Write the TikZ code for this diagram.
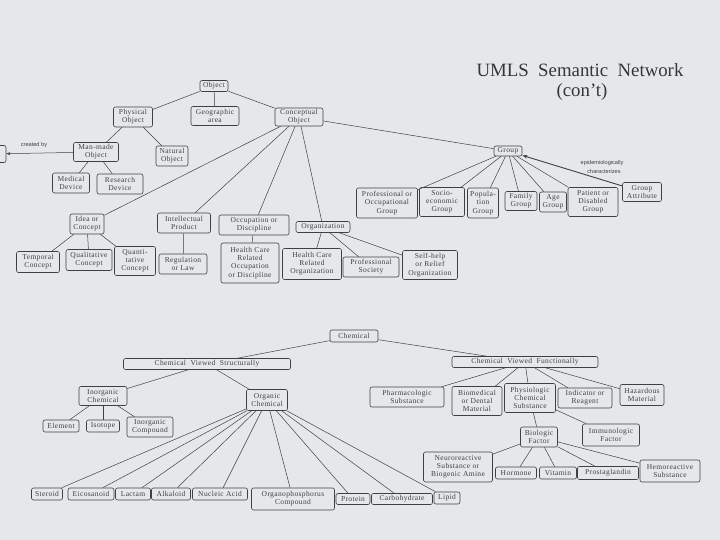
\documentclass[tikz,border=0pt]{standalone}
\usepackage{fontspec}
\setmainfont{Liberation Serif}
\newfontfamily\boxfont[LetterSpace=5]{Liberation Serif}
\setsansfont{Liberation Sans}
\usetikzlibrary{arrows.meta}
\definecolor{bg}{RGB}{229,232,233}
\definecolor{ink}{RGB}{62,64,70}
\begin{document}
\begin{tikzpicture}[x=1pt,y=-1pt,
 box/.style={draw=ink, line width=0.6pt, rounded corners=2pt, align=center, inner sep=0.3pt, text=ink, font=\boxfont\fontsize{7.5}{8.2}\selectfont},
 sz/.style 2 args={minimum width=#1, minimum height=#2},
 link/.style={draw=ink, line width=0.5pt},
 lbl/.style={font=\sffamily\fontsize{5.6}{6}\selectfont, text=ink, inner sep=0}]
\fill[bg] (0,0) rectangle (720,540);
\useasboundingbox (0,0) rectangle (720,540);
\clip (0,0) rectangle (720,540);

% title
\node[font=\fontsize{18.8}{20}\selectfont, text=ink!85!black, inner sep=0] (t1) at (580,70) {UMLS\ \ Semantic\ \ Network};
\node[font=\fontsize{18.8}{20}\selectfont, text=ink!85!black, inner sep=0] (t2) at (582,92) {(con't)};

% ---- upper network
\node[box,sz={28}{11}] (obj) at (214,86) {Object};
\node[box,sz={39}{20}] (phys) at (133,117) {Physical\\Object};
\node[box,sz={48}{19}] (geo) at (215,116) {Geographic\\area};
\node[box,sz={48}{18}] (conc) at (299,117) {Conceptual\\Object};
\node[box,sz={45}{19}] (man) at (96,152) {Man-made\\Object};
\node[box,sz={32}{20}] (nat) at (172,156) {Natural\\Object};
\node[box,sz={37}{20}] (med) at (71,183) {Medical\\Device};
\node[box,sz={46}{20}] (res) at (120,184) {Research\\Device};
\node[box,sz={30}{17}] (off) at (-9,154) {};
\node[lbl] (cb) at (34,145) {created by};

\node[box,sz={28}{10}] (grp) at (508,151) {Group};
\node[box,sz={61}{30}] (prof) at (387,203) {Professional or\\Occupational\\Group};
\node[box,sz={45}{29}] (socio) at (442,202) {Socio-\\economic\\Group};
\node[box,sz={31}{30}] (popu) at (483,203) {Popula-\\tion\\Group};
\node[box,sz={32}{19}] (fam) at (521,201) {Family\\Group};
\node[box,sz={27}{20}] (age) at (553,202) {Age\\Group};
\node[box,sz={50}{29}] (pat) at (593,202) {Patient or\\Disabled\\Group};
\node[box,sz={39}{19}] (gatt) at (642,192) {Group\\Attribute};
\node[lbl] (epi1) at (602,163) {epidemiologically};
\node[lbl] (epi2) at (604,171) {characterizes};

\node[box,sz={34}{20}] (idea) at (87,224) {Idea or\\Concept};
\node[box,sz={53}{20}] (intel) at (184,223) {Intellectual\\Product};
\node[box,sz={70}{20}] (occ) at (254,225) {Occupation or\\Discipline};
\node[box,sz={54}{11}] (org) at (323,227) {Organization};
\node[box,sz={43}{21}] (temp) at (38,262) {Temporal\\Concept};
\node[box,sz={46}{21}] (qual) at (89,260) {Qualitative\\Concept};
\node[box,sz={41}{29}] (quant) at (135,261) {Quanti-\\tative\\Concept};
\node[box,sz={48}{20}] (reg) at (183,264) {Regulation\\or Law};
\node[box,sz={58}{40}] (hcocc) at (250,263) {Health Care\\Related\\Occupation\\or Discipline};
\node[box,sz={59}{31}] (hcorg) at (312,264) {Health Care\\Related\\Organization};
\node[box,sz={56}{20}] (profsoc) at (371,267) {Professional\\Society};
\node[box,sz={55}{29}] (self) at (430,265) {Self-help\\or Relief\\Organization};

\draw[link] (obj) -- (phys);
\draw[link] (obj) -- (geo);
\draw[link] (obj) -- (conc);
\draw[link] (phys) -- (man);
\draw[link] (phys) -- (nat);
\draw[link] (man) -- (med);
\draw[link] (man) -- (res);
\draw[link, -{Stealth[length=4pt,width=3pt]}] (man) -- (off);
\draw[link] (conc) -- (idea);
\draw[link] (conc) -- (intel);
\draw[link] (conc) -- (occ);
\draw[link] (conc) -- (org);
\draw[link] (conc) -- (grp);
\foreach \c in {prof,socio,popu,fam,age,pat} \draw[link] (grp) -- (\c);
\draw[link, line width=0.9pt, -{Stealth[length=5pt,width=3.5pt]}] (gatt) -- (grp);
\draw[link] (idea) -- (temp);
\draw[link] (idea) -- (qual);
\draw[link] (idea) -- (quant);
\draw[link] (intel) -- (reg);
\draw[link] (occ) -- (hcocc);
\draw[link] (org) -- (hcorg);
\draw[link] (org) -- (profsoc);
\draw[link] (org) -- (self);

% ---- lower network
\node[box,sz={48}{12}] (chem) at (354,336) {Chemical};
\node[box,sz={167}{11}] (cvs) at (207,364) {Chemical\ \ Viewed\ \ Structurally};
\node[box,sz={146}{11}] (cvf) at (525,362) {Chemical\ \ Viewed\ \ Functionally};
\node[box,sz={48}{19}] (inorg) at (103,396) {Inorganic\\Chemical};
\node[box,sz={41}{21}] (orgc) at (267,400) {Organic\\Chemical};
\node[box,sz={36}{12}] (elem) at (61,426) {Element};
\node[box,sz={33}{12}] (iso) at (103,426) {Isotope};
\node[box,sz={46}{20}] (inorgc) at (150,427) {Inorganic\\Compound};
\node[box,sz={74}{20}] (pharm) at (407,397) {Pharmacologic\\Substance};
\node[box,sz={50}{29}] (biomed) at (477,401) {Biomedical\\or Dental\\Material};
\node[box,sz={51}{29}] (physio) at (530,398) {Physiologic\\Chemical\\Substance};
\node[box,sz={54}{20}] (indic) at (585,398) {Indicator or\\Reagent};
\node[box,sz={44}{21}] (haz) at (642,395) {Hazardous\\Material};
\node[box,sz={37}{20}] (biol) at (539,437) {Biologic\\Factor};
\node[box,sz={57}{22}] (immu) at (611,435) {Immunologic\\Factor};
\node[box,sz={69}{30}] (neuro) at (458,467) {Neuroreactive\\Substance or\\Biogenic Amine};
\node[box,sz={41}{12}] (horm) at (516,473) {Hormone};
\node[box,sz={37}{12}] (vit) at (558,473) {Vitamin};
\node[box,sz={61}{13}] (prost) at (608,473) {Prostaglandin};
\node[box,sz={60}{22}] (hemo) at (670,471) {Hemoreactive\\Substance};
\node[box,sz={31}{12}] (ster) at (47,494) {Steroid};
\node[box,sz={46}{12}] (eico) at (91,494) {Eicosanoid};
\node[box,sz={35}{12}] (lact) at (133,494) {Lactam};
\node[box,sz={39}{12}] (alka) at (171,494) {Alkaloid};
\node[box,sz={55}{12}] (nucl) at (220,494) {Nucleic Acid};
\node[box,sz={83}{22}] (orgp) at (293,499) {Organophosphorus\\Compound};
\node[box,sz={34}{11}] (prot) at (353,499) {Protein};
\node[box,sz={61}{11}] (carb) at (402,499) {Carbohydrate};
\node[box,sz={26}{12}] (lip) at (447,498) {Lipid};

\draw[link] (chem) -- (cvs);
\draw[link] (chem) -- (cvf);
\draw[link] (cvs) -- (inorg);
\draw[link] (cvs) -- (orgc);
\foreach \c in {elem,iso,inorgc} \draw[link] (inorg) -- (\c);
\foreach \c in {ster,eico,lact,alka,nucl,orgp,prot,carb,lip} \draw[link] (orgc) -- (\c);
\foreach \c in {pharm,biomed,physio,indic,haz} \draw[link] (cvf) -- (\c);
\draw[link] (physio) -- (biol);
\draw[link] (physio) -- (immu);
\foreach \c in {neuro,horm,vit,prost,hemo} \draw[link] (biol) -- (\c);
\end{tikzpicture}
\end{document}
